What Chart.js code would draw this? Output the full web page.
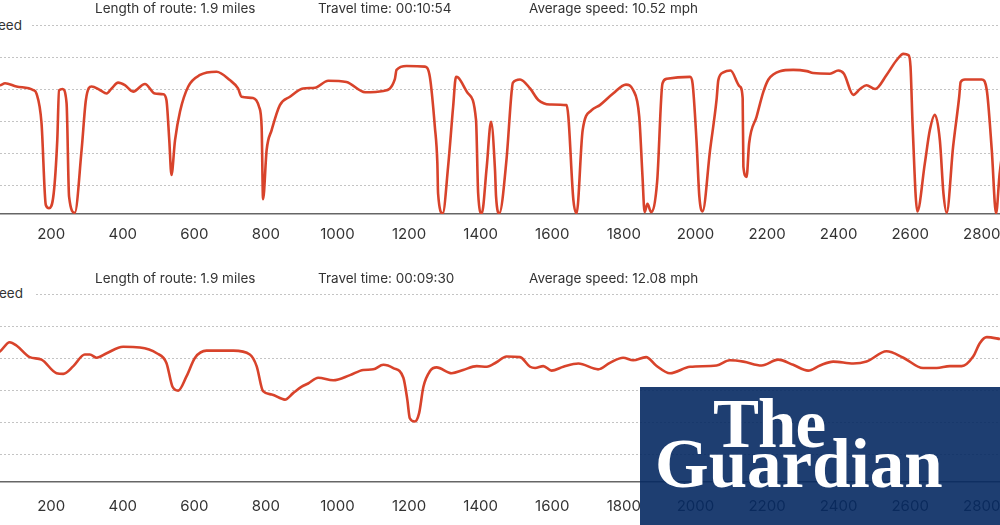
<!DOCTYPE html>
<html>
<head>
<meta charset="utf-8">
<script src="https://cdn.jsdelivr.net/npm/chart.js@4.4.1/dist/chart.umd.min.js"></script>
<style>
  body { margin: 0; background: #fff; overflow: hidden; }
  #page { position: relative; width: 1000px; height: 525px; overflow: hidden; font-family: Inter, "Noto Sans", sans-serif; color: #333; }
  .box { position: absolute; left: 0; width: 1000px; }
  .hdr { position: absolute; font-size: 13.5px; line-height: 16px; white-space: nowrap; }
  .ylab { position: absolute; font-size: 13.5px; line-height: 16px; white-space: nowrap; background: #fff; text-align: right; }
  #logo { position: absolute; left: 640px; top: 387px; width: 360px; height: 138px; background: rgba(5, 41, 98, 0.9); z-index: 5; }
  #logo span { position: absolute; color: #fff; font-family: "Liberation Serif", "DejaVu Serif", serif; font-weight: bold; font-size: 69px; line-height: 69px; white-space: nowrap; }
</style>
</head>
<body>
<div id="page">
  <div class="box" style="top:0;height:250px"><canvas id="top"></canvas></div>
  <div class="box" style="top:260px;height:265px"><canvas id="bottom"></canvas></div>

  <div class="hdr" style="left:95px;top:0">Length of route: 1.9 miles</div>
  <div class="hdr" style="left:318px;top:0">Travel time: 00:10:54</div>
  <div class="hdr" style="left:529px;top:0">Average speed: 10.52 mph</div>
  <div class="ylab" style="right:970px;top:17px;padding-right:8px">Speed</div>

  <div class="hdr" style="left:95px;top:270px">Length of route: 1.9 miles</div>
  <div class="hdr" style="left:318px;top:270px">Travel time: 00:09:30</div>
  <div class="hdr" style="left:529px;top:270px">Average speed: 12.08 mph</div>
  <div class="ylab" style="right:965px;top:285px;padding-right:12px">Speed</div>

  <div id="logo"><span style="left:73px;top:3px;letter-spacing:-1px">The</span><span style="left:15px;top:43px">Guardian</span></div>
</div>
<script>
// distance along route and speed for the first ride
var topX = [20, 57, 71, 103, 150, 159, 173, 185, 194, 207, 217, 222, 232, 243, 250, 266, 285, 297, 313, 336,
  355, 369, 387, 406, 429, 462, 490, 513, 522, 530, 536, 546, 560, 583, 616, 662, 699, 722, 732, 764,
  781, 788, 792, 802, 816, 839, 867, 904, 937, 974, 1025, 1077, 1128, 1160, 1165, 1193, 1244, 1258, 1272, 1279,
  1281, 1294, 1309, 1323, 1331, 1337, 1365, 1387, 1393, 1403, 1417, 1429, 1440, 1443, 1452, 1472, 1486, 1490, 1510, 1538,
  1561, 1593, 1640, 1645, 1659, 1668, 1685, 1710, 1733, 1770, 1806, 1826, 1843, 1852, 1858, 1866, 1876, 1893, 1908, 1920,
  1985, 1992, 2003, 2011, 2020, 2041, 2059, 2064, 2078, 2098, 2124, 2132, 2134, 2143, 2150, 2171, 2190, 2204, 2236, 2273,
  2311, 2329, 2376, 2399, 2415, 2441, 2460, 2478, 2502, 2534, 2562, 2581, 2595, 2601, 2607, 2620, 2641, 2655, 2669, 2683,
  2693, 2702, 2720, 2737, 2741, 2753, 2800, 2814, 2828, 2840, 2850, 2870];
var topSpeed = [20.0, 20.1, 20.4, 19.9, 19.35, 18.8, 14.2, 1.4, 0.9, 3.2, 11.5, 19.3, 19.5, 17.3, 2.7, 0.2, 10, 17.8, 19.9, 19.35,
  18.8, 19.6, 20.5, 20.1, 19.1, 20.3, 18.8, 18.7, 17.8, 11.5, 6.1, 11.5, 16, 19.9, 21.7, 22.2, 20.9, 19.6, 18.3, 18.1,
  16.7, 13.6, 2.3, 10, 13.1, 17, 18.3, 19.6, 19.7, 20.8, 20.6, 19.0, 19.2, 21, 22.5, 23.1, 23, 21.4, 13.6, 7.9,
  3.2, 0.1, 7.4, 16.7, 21.4, 21.3, 18.8, 14.7, 3.2, 0.1, 7.4, 14.4, 6.9, 2.7, 0.1, 8.4, 18.8, 20.5, 21, 19.6,
  17.8, 17.1, 17, 15.2, 2.2, 0.1, 13.1, 16.2, 17, 18.8, 20.2, 19.35, 15.2, 6, 0.3, 1.6, 0.3, 5, 20.4, 21.1,
  21.4, 20.4, 11.5, 2.7, 0.4, 10, 17.8, 20.9, 22.1, 22.4, 19.9, 18.1, 7.4, 5.8, 11, 15.2, 19.1, 21, 22.3, 22.5,
  22.3, 22, 21.9, 22.4, 21.9, 18.6, 19.5, 20.1, 19.5, 21.7, 24, 25, 24.8, 23, 13.6, 0.4, 7.9, 13.1, 15.5, 11.5,
  3.2, 0.2, 10.5, 18.3, 20.6, 21, 21, 19.35, 10, 0.1, 6.3, 14];

// second ride
var bottomX = [20, 57, 84, 103, 140, 173, 215, 234, 262, 294, 308, 327, 355, 401, 448, 495, 522, 539, 555, 578,
  602, 634, 709, 755, 774, 792, 816, 853, 876, 900, 918, 946, 988, 1035, 1072, 1100, 1128, 1156, 1184, 1195,
  1202, 1216, 1228, 1240, 1258, 1277, 1319, 1351, 1389, 1417, 1444, 1472, 1510, 1538, 1552, 1575, 1598, 1631, 1673, 1728,
  1761, 1798, 1826, 1862, 1890, 1929, 1985, 2059, 2096, 2134, 2185, 2231, 2273, 2315, 2348, 2385, 2441, 2478, 2534, 2581,
  2636, 2674, 2711, 2744, 2776, 2795, 2814, 2851, 2870];
var bottomSpeed = [20.0, 20.6, 22, 21.5, 19.7, 19.3, 17.2, 17.1, 18.3, 20.1, 20.1, 19.6, 20.3, 21.3, 21.2, 20.3, 18.8, 15.1, 14.5, 16.7,
  19.6, 20.7, 20.7, 20.1, 18.3, 14.4, 13.9, 13.1, 14.1, 15.1, 15.6, 16.5, 16.1, 16.9, 17.7, 17.8, 18.5, 18, 16.5, 13.1,
  10.2, 9.7, 11, 15.1, 17.5, 18.1, 17.2, 17.7, 18.3, 18.2, 18.9, 19.8, 19.7, 18.2, 18, 18.3, 17.6, 18.2, 18.7, 17.8,
  18.8, 19.6, 19.2, 19.7, 18.4, 17.2, 18.2, 18.4, 19.2, 19, 18.4, 19.3, 18.5, 17.6, 18.4, 19, 18.7, 19, 20.6, 19.6,
  18, 18, 18.3, 18.3, 19.8, 21.9, 22.8, 22.5, 22.3];

var xTicks = [200, 400, 600, 800, 1000, 1200, 1400, 1600, 1800, 2000, 2200, 2400, 2600, 2800];
var yTicks = [4.5, 9.5, 14.5, 19.5, 24.5, 29.5];

function makeChart(id, xs, ys, opt) {
  var pts = xs.map(function (x, i) { return { x: x, y: ys[i] }; });
  return new Chart(document.getElementById(id), {
    type: 'line',
    data: {
      datasets: [{
        data: pts,
        borderColor: '#d8432b',
        borderWidth: 2.6,
        pointRadius: 0,
        cubicInterpolationMode: 'monotone',
        fill: false
      }]
    },
    options: {
      responsive: true,
      maintainAspectRatio: false,
      animation: false,
      layout: { padding: { top: opt.padTop, left: 0, right: 0, bottom: 0 } },
      plugins: { legend: { display: false }, tooltip: { enabled: false } },
      scales: {
        x: {
          type: 'linear',
          min: 57,
          max: 2851,
          grid: { display: false },
          border: { display: true, color: '#666', width: 1.5 },
          ticks: {
            color: '#333',
            padding: opt.tickPad,
            maxRotation: 0,
            font: { family: 'Inter', size: 15 },
            callback: function (v) { return String(v); }
          },
          afterBuildTicks: function (s) { s.ticks = xTicks.map(function (v) { return { value: v }; }); },
          afterFit: function (s) { s.height = opt.axisH; s.paddingLeft = 0; s.paddingRight = 0; }
        },
        y: {
          min: opt.yMin,
          max: 29.5,
          ticks: { display: false },
          border: { display: false, dash: [2, 2] },
          grid: { color: '#c4c4c4', lineWidth: 1, drawTicks: false },
          afterBuildTicks: function (s) { s.ticks = yTicks.map(function (v) { return { value: v }; }); },
          afterFit: function (s) { s.width = 0; s.paddingTop = 0; s.paddingBottom = 0; }
        }
      }
    }
  });
}

var c1 = makeChart('top', topX, topSpeed, { padTop: 25, tickPad: 3, axisH: 36, yMin: 0 });
var c2 = makeChart('bottom', bottomX, bottomSpeed, { padTop: 34, tickPad: 7, axisH: 43, yMin: 0.3 });
</script>
</body>
</html>
